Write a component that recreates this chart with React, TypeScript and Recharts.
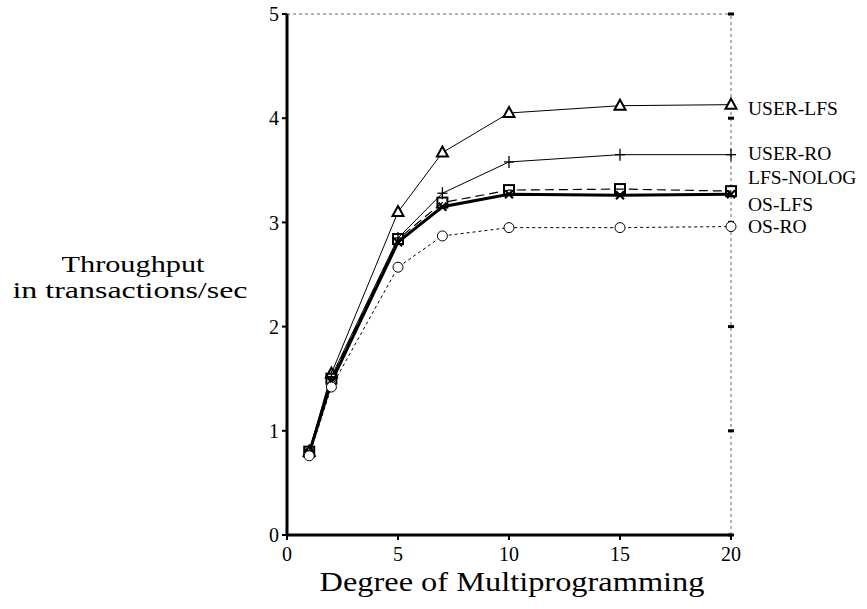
import { LineChart, Line, XAxis, YAxis, ReferenceLine, ReferenceDot } from 'recharts';

const degrees = [1, 2, 5, 7, 10, 15, 20];
const userLfs = [0.8, 1.55, 3.1, 3.67, 4.05, 4.12, 4.13];
const userRo = [0.8, 1.52, 2.85, 3.28, 3.58, 3.65, 3.65];
const lfsNolog = [0.8, 1.5, 2.84, 3.19, 3.31, 3.32, 3.3];
const osLfs = [0.79, 1.47, 2.81, 3.15, 3.27, 3.26, 3.27];
const osRo = [0.76, 1.42, 2.57, 2.87, 2.95, 2.95, 2.96];
const xTicks = [0, 5, 10, 15, 20];
const yTicks = [0, 1, 2, 3, 4, 5];

const data = degrees.map((d, i) => ({
  degree: d,
  userLfs: userLfs[i],
  userRo: userRo[i],
  lfsNolog: lfsNolog[i],
  osLfs: osLfs[i],
  osRo: osRo[i],
}));

const FONT = '"Liberation Serif", "Times New Roman", serif';

const Triangle = ({ cx, cy }: any) => (
  <path d={`M${cx},${cy - 6} L${cx + 5.5},${cy + 4} L${cx - 5.5},${cy + 4} Z`} fill="#fff" stroke="#000" strokeWidth={2} />
);
const Plus = ({ cx, cy }: any) => (
  <g stroke="#000" strokeWidth={1.3}>
    <line x1={cx - 5} x2={cx + 5} y1={cy} y2={cy} />
    <line x1={cx} x2={cx} y1={cy - 6} y2={cy + 6} />
  </g>
);
const Square = ({ cx, cy }: any) => (
  <rect x={cx - 5} y={cy - 5} width={10} height={10} fill="none" stroke="#000" strokeWidth={2} />
);
const Cross = ({ cx, cy }: any) => (
  <g stroke="#000" strokeWidth={2.2}>
    <line x1={cx - 4} x2={cx + 4} y1={cy - 4} y2={cy + 4} />
    <line x1={cx - 4} x2={cx + 4} y1={cy + 4} y2={cy - 4} />
  </g>
);
const Circle = ({ cx, cy }: any) => (
  <circle cx={cx} cy={cy} r={5} fill="#fff" stroke="#000" strokeWidth={1} />
);

const series = [
  { key: 'userLfs', name: 'USER-LFS', width: 1, dash: undefined, dot: Triangle, dy: 6 },
  { key: 'userRo', name: 'USER-RO', width: 1, dash: undefined, dot: Plus, dy: 1 },
  { key: 'lfsNolog', name: 'LFS-NOLOG', width: 1.2, dash: '9 5', dot: Square, dy: -12 },
  { key: 'osLfs', name: 'OS-LFS', width: 3, dash: undefined, dot: Cross, dy: 12 },
  { key: 'osRo', name: 'OS-RO', width: 1, dash: '3 3', dot: Circle, dy: 2 },
];

export default function App() {
  return (
    <div style={{ position: 'absolute', left: 0, top: 0, width: 867, height: 609, fontFamily: FONT }}>
      <LineChart width={867} height={609} data={data} margin={{ top: 14, right: 136, bottom: 44, left: 257 }}>
        <XAxis
          dataKey="degree"
          type="number"
          domain={[0, 20]}
          ticks={xTicks}
          axisLine={{ stroke: '#000', strokeWidth: 3 }}
          tickLine={{ stroke: '#000', strokeWidth: 2 }}
          tickSize={5}
          tickMargin={7}
          height={30}
          tick={{ fill: '#000', fontSize: 20, fontFamily: FONT }}
        />
        <YAxis
          type="number"
          domain={[0, 5]}
          ticks={yTicks}
          axisLine={{ stroke: '#000', strokeWidth: 3 }}
          tickLine={{ stroke: '#000', strokeWidth: 2 }}
          tickSize={5}
          tickMargin={3}
          width={30}
          tick={{ fill: '#000', fontSize: 20, fontFamily: FONT }}
        />
        <ReferenceLine y={5} stroke="#666" strokeDasharray="3 3" />
        <ReferenceLine x={20} stroke="#666" strokeDasharray="3 3" />
        {yTicks.map((t) => (
          <ReferenceDot
            key={t}
            x={20}
            y={t}
            r={0}
            shape={(p: any) => (
              <line x1={p.cx - 3} x2={p.cx + 3} y1={p.cy} y2={p.cy} stroke="#000" strokeWidth={3} />
            )}
          />
        ))}
        {series.map((s) => {
          const D = s.dot;
          return (
            <Line
              key={s.key}
              dataKey={s.key}
              stroke="#000"
              strokeWidth={s.width}
              strokeDasharray={s.dash}
              isAnimationActive={false}
              dot={(p: any) => <D key={p.index} cx={p.cx} cy={p.cy} />}
              label={(p: any) =>
                p.index === data.length - 1 ? (
                  <text
                    key={p.index}
                    x={p.x + 17}
                    y={p.y + s.dy}
                    dominantBaseline="middle"
                    fontSize={19.5}
                    fontFamily={FONT}
                    fill="#000"
                  >
                    {s.name}
                  </text>
                ) : (
                  <g key={p.index} />
                )
              }
            />
          );
        })}
        <text x={133} y={272} textAnchor="middle" fontSize={23} fontFamily={FONT} fill="#000" textLength={143} lengthAdjust="spacingAndGlyphs">
          Throughput
        </text>
        <text x={130} y={298} textAnchor="middle" fontSize={23} fontFamily={FONT} fill="#000" textLength={235} lengthAdjust="spacingAndGlyphs">
          in transactions/sec
        </text>
        <text x={512} y={591} textAnchor="middle" fontSize={27} fontFamily={FONT} fill="#000" textLength={385} lengthAdjust="spacingAndGlyphs">
          Degree of Multiprogramming
        </text>
      </LineChart>
    </div>
  );
}
